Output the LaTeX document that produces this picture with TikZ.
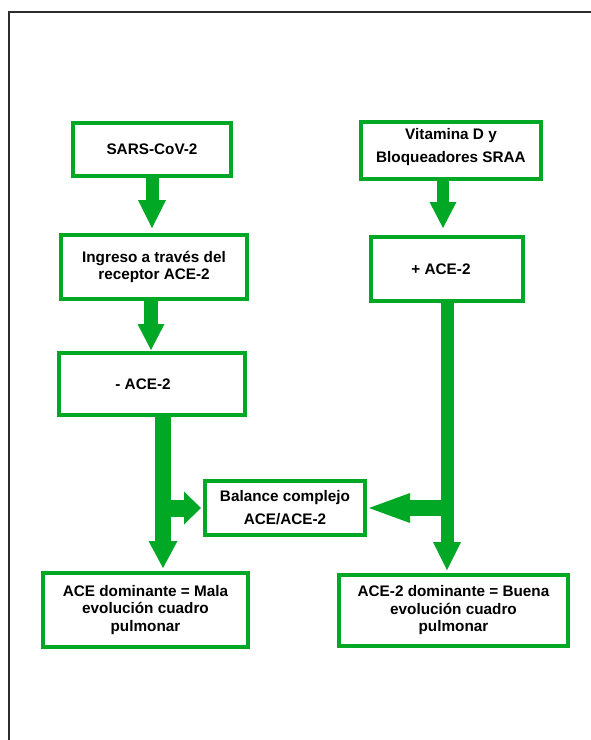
\documentclass[tikz,border=0pt]{standalone}
\usepackage{fontspec}
\setmainfont{Liberation Sans}
\usetikzlibrary{arrows.meta,calc}
\definecolor{grn}{RGB}{0,168,38}
\definecolor{framecol}{RGB}{45,45,45}
\begin{document}
\begin{tikzpicture}[x=1pt,y=-1pt,
  box/.style={draw=grn,line width=4pt,fill=white,align=center,inner sep=0pt,
    font=\fontsize{15.3}{17.5}\selectfont\bfseries,text=black},
  fat/.style={draw=grn,line width=#1,line cap=butt},
  tip/.style n args={2}{-{Triangle[width=#1,length=#2,line width=0pt]}},
]
\useasboundingbox (0,0) rectangle (591,740);
\draw[framecol,line width=2.2pt] (9,742) -- (9,12) -- (593,12);

% boxes
\node[box,minimum width=158pt,minimum height=53pt] (b1) at (152,149.5) {SARS-CoV-2};
\node[box,minimum width=186pt,minimum height=64pt] (b2) at (154,267) {Ingreso a través del\\receptor ACE-2};
\node[box,minimum width=186pt,minimum height=62pt] (b3) at (152,384) {\hbox{- ACE-2\kern18pt}};
\node[box,minimum width=180pt,minimum height=57pt,text depth=11pt] (vit) at (451,150.5) {Vitamina D y\\[5.5pt]Bloqueadores SRAA};
\node[box,minimum width=152pt,minimum height=64pt] (pace) at (447,269) {\hbox{+ ACE-2\kern12pt}};
\node[box,minimum width=160pt,minimum height=54pt] (bal) at (285,508) {Balance complejo\\[5.5pt]ACE/ACE-2};
\node[box,minimum width=205pt,minimum height=74pt] (bl) at (145.5,610) {ACE dominante = Mala\\evolución cuadro\\pulmonar};
\node[box,minimum width=229pt,minimum height=71pt] (br) at (453.5,610.5) {ACE-2 dominante = Buena\\evolución cuadro\\pulmonar};

% arrows
\draw[fat=13pt,tip={28pt}{28pt}] (b1.south) -- ($(b1.south |- b2.north)+(0,-5)$);
\coordinate (a2) at ($(b2.south)+(-3,0)$);
\draw[fat=14pt,tip={27pt}{26pt}] (a2) -- ($(a2 |- b3.north)+(0,-1)$);
\coordinate (a3) at ($(vit.south)+(-8,0)$);
\draw[fat=12pt,tip={27pt}{26pt}] (a3) -- ($(a3 |- pace.north)+(0,-7)$);

\coordinate (ls) at ($(b3.south)+(11,0)$);
\draw[fat=16pt,tip={29pt}{27pt}] (ls) -- ($(ls |- bl.north)+(0,-3)$);
\draw[fat=17pt,tip={33pt}{17pt}] (ls |- bal.west) -- ($(bal.west)+(-2,0)$);

\coordinate (rs) at (pace.south);
\draw[fat=13pt,tip={28pt}{28pt}] (rs) -- ($(rs |- br.north)+(0,-3)$);
\draw[fat=16pt,tip={30pt}{41pt}] (rs |- bal.east) -- ($(bal.east)+(2,0)$);
\end{tikzpicture}
\end{document}
